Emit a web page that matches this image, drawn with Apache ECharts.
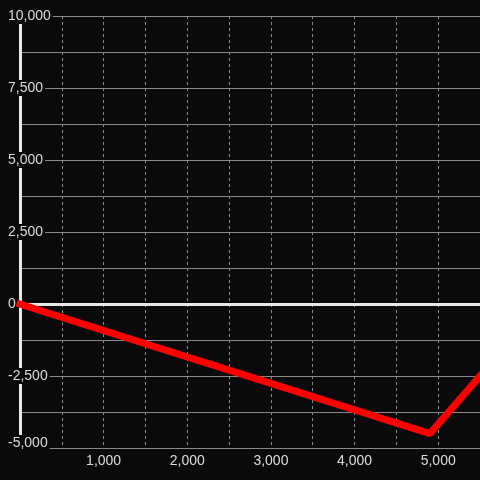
<!DOCTYPE html>
<html>
<head>
<meta charset="utf-8">
<script src="https://cdn.jsdelivr.net/npm/echarts@6/dist/echarts.min.js"></script>
<style>
  html, body { margin: 0; padding: 0; background: #0a090c; }
  #chart { width: 480px; height: 480px; }
</style>
</head>
<body>
<div id="chart"></div>
<script>
  // data
  const xValues = [0, 4900, 5500]
  const yValues = [0, -4500, -2500]

  const bg = "#0a090c"
  const labelColor = "#dcdcdc"
  const gridColor = "#8a8a8a"
  const yMin = -5000

  const chart = echarts.init(document.getElementById("chart"))

  const option = {
    animation: false,
    backgroundColor: bg,
    grid: {
      left: 20,
      right: 0,
      top: 16,
      bottom: 32,
      outerBoundsMode: "none",
    },
    xAxis: [
      {
        type: "value",
        min: 0,
        max: 5500,
        interval: 500,
        position: "bottom",
        axisLine: { show: false, onZero: false },
        axisTick: { show: false },
        axisLabel: {
          color: labelColor,
          fontSize: 14,
          margin: 6,
          formatter: (v) => (v > 0 && v % 1000 === 0 ? echarts.format.addCommas(v) : ""),
        },
        splitLine: {
          show: true,
          showMaxLine: false,
          lineStyle: { color: gridColor, width: 1, type: [3, 3] },
        },
      },
      {
        type: "value",
        min: 0,
        max: 5500,
        position: "bottom",
        axisLine: { show: true, onZero: true, lineStyle: { color: "#e8e8e8", width: 3 } },
        axisTick: { show: false },
        axisLabel: { show: false },
        splitLine: { show: false },
      },
    ],
    yAxis: {
      type: "value",
      min: yMin,
      max: 10000,
      interval: 2500,
      axisLine: { show: true, lineStyle: { color: "#e8e8e8", width: 3 } },
      axisTick: { show: false },
      minorTick: { show: false, splitNumber: 2 },
      axisLabel: {
        color: labelColor,
        fontSize: 14,
        align: "left",
        margin: 14,
        padding: [1, 2, 1, 2],
        backgroundColor: bg,
        formatter: (v) => {
          const s = echarts.format.addCommas(v)
          // bottom label sits a little above its line
          return v === yMin ? "{low|" + s + "}" : s
        },
        rich: {
          low: { color: labelColor, fontSize: 14, padding: [0, 0, 10, 0] },
        },
      },
      splitLine: { show: true, lineStyle: { color: gridColor, width: 1 } },
      minorSplitLine: { show: true, lineStyle: { color: gridColor, width: 1 } },
    },
    series: [
      {
        type: "line",
        xAxisIndex: 0,
        yAxisIndex: 0,
        data: xValues.map((x, i) => [x, yValues[i]]),
        symbol: "none",
        clip: false,
        lineStyle: { color: "#ff0000", width: 7, cap: "square" },
      },
    ],
  }

  chart.setOption(option)
</script>
</body>
</html>
